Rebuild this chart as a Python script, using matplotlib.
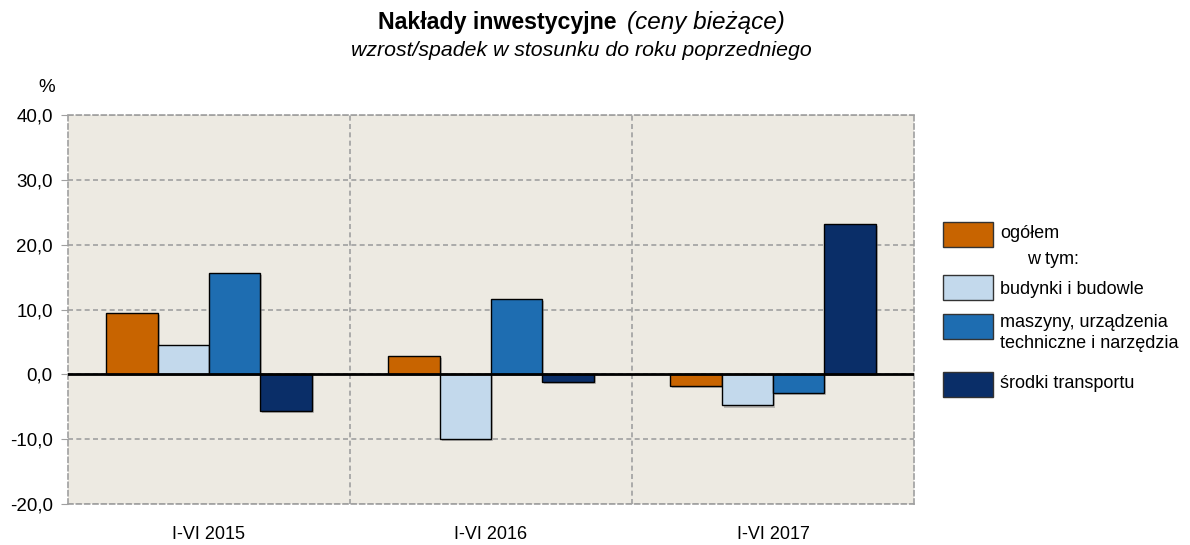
import matplotlib.pyplot as plt
import matplotlib.patheffects as pe
from matplotlib.patches import Rectangle
import numpy as np

plt.rcParams['font.family'] = ['Liberation Sans', 'DejaVu Sans']

periods = ['I-VI 2015', 'I-VI 2016', 'I-VI 2017']
series_names = ['ogółem', 'budynki i budowle',
                'maszyny, urządzenia\ntechniczne i narzędzia', 'środki transportu']
ogolem = [9.4, 2.9, -1.8]
budynki = [4.5, -9.9, -4.8]
maszyny = [15.6, 11.6, -2.9]
transport = [-5.7, -1.2, 23.2]
colors = ['#C86400', '#C3D9EC', '#1E6DB1', '#0A2E68']
yticks = [-20, -10, 0, 10, 20, 30, 40]

W, H = 1190, 545
fig = plt.figure(figsize=(W / 100, H / 100), dpi=100)
ax = fig.add_axes([68 / W, 1 - 504 / H, (914 - 68) / W, (504 - 115) / H])
ax.set_facecolor('#EDEAE2')

x = np.arange(len(periods))
bw = 0.182
shadow = [pe.SimplePatchShadow(offset=(1.5, -1.5), shadow_rgbFace='#888888', alpha=0.5), pe.Normal()]
for i, vals in enumerate([ogolem, budynki, maszyny, transport]):
    bars = ax.bar(x + (i - 1.5) * bw, vals, width=bw, color=colors[i],
                  edgecolor='black', linewidth=1.0, zorder=3)
    for b in bars:
        b.set_path_effects(shadow)

ax.set_xlim(-0.5, 2.5)
ax.set_ylim(-20, 40)
ax.set_yticks(yticks)
ax.set_yticklabels([f'{v:.1f}'.replace('.', ',') for v in yticks], fontsize=13.5)
ax.set_xticks(x)
ax.set_xticklabels(periods, fontsize=13)
ax.set_xticks([0.5, 1.5], minor=True)
ax.tick_params(axis='x', which='both', length=0, pad=16)
ax.tick_params(axis='y', length=5, color='#A0A0A0', pad=6)

dash = (0, (3, 2))
ax.grid(axis='y', which='major', color='#A0A0A0', linestyle=dash, linewidth=1.2, zorder=1)
ax.grid(axis='x', which='minor', color='#A0A0A0', linestyle=dash, linewidth=1.2, zorder=1)
for s in ax.spines.values():
    s.set_color('#A0A0A0')
    s.set_linestyle(dash)
    s.set_linewidth(1.2)
ax.axhline(0, color='black', linewidth=2, zorder=4)

# titles
def px(xp, yp):
    return xp / W, 1 - yp / H

fig.text(*px(617, 22), 'Nakłady inwestycyjne', fontsize=16.7, fontweight='bold',
         ha='right', va='center')
fig.text(*px(627, 22), '(ceny bieżące)', fontsize=17.5, style='italic',
         ha='left', va='center')
fig.text(*px(581, 50), 'wzrost/spadek w stosunku do roku poprzedniego', fontsize=15.3,
         style='italic', ha='center', va='center')
fig.text(*px(47, 88), '%', fontsize=13.5, ha='center', va='center')

# legend
patch_y = [222, 275, 314, 372]
text_y = [234, 289, 333, 384]
for c, py, ty, name in zip(colors, patch_y, text_y, series_names):
    fig.add_artist(Rectangle(px(943, py + 25), 50 / W, 25 / H, transform=fig.transFigure,
                             facecolor=c, edgecolor='#333333', linewidth=1.0))
    fig.text(*px(1000, ty), name, fontsize=13, ha='left', va='center', linespacing=1.25)
fig.text(*px(1027, 260), 'w tym:', fontsize=13, ha='left', va='center')

fig.savefig('out.png', dpi=100)
